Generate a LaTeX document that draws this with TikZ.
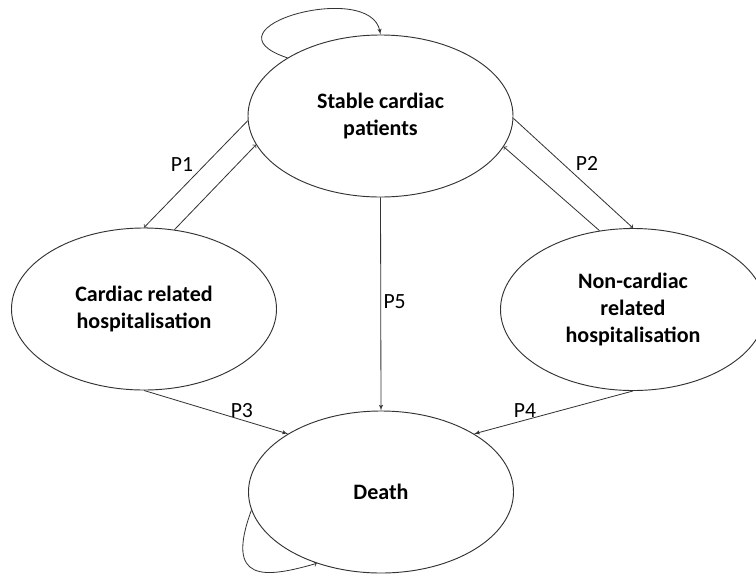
\documentclass[tikz,border=0pt]{standalone}
\usepackage{fontspec}
\setmainfont{Carlito}
\usepackage{tikz}
\usetikzlibrary{positioning}
\usetikzlibrary{shapes,arrows}
\tikzstyle{state} = [ellipse, draw=black!80, line width=0.8pt, align=center,
    minimum width=7.95cm, minimum height=4.86cm, inner sep=0pt,
    font=\fontsize{18.8}{23}\selectfont\bfseries]
\tikzstyle{line} = [draw=black!80, line width=0.7pt, -latex']
\tikzstyle{open} = [draw=black!80, line width=0.7pt, ->]
\tikzstyle{prob} = [font=\fontsize{18.5}{23}\selectfont, inner sep=2pt]

\begin{document}
\begin{tikzpicture}[x=0.03cm, y=-0.03cm]
        \useasboundingbox (0,0) rectangle (756,575);
        % nodes
        \node [state] (stable) at (380.5,116) {Stable cardiac\\patients};
        \node [state] (cardiac) at (144,309) {Cardiac related\\hospitalisation};
        \node [state] (noncardiac) at (633,309.5) {Non-cardiac\\related\\hospitalisation};
        \node [state] (death) at (381,492) {Death};
        % edges
        \path [open] (stable.182) --node[prob, above left]{P1}(cardiac.north);
        \path [open] (cardiac.69) -- (stable.193);
        \path [open] (stable.-1) --node[prob, above right]{P2}(noncardiac.north);
        \path [open] (noncardiac.113) -- (stable.-14);
        \path [line] (stable.south) --node[prob, pos=0.49, right]{P5}(death.north);
        \path [line] (cardiac.south) --node[prob, pos=0.68, above]{P3}(death.148);
        \path [line] (noncardiac.south) --node[prob, pos=0.68, above]{P4}(death.32);
        % self loops
        \path [line] (stable.148) .. controls +(-90,-30) and +(-10,-55) .. (stable.north);
        \path [open] (death.188) .. controls +(-27,73) and +(-52,15) .. (death.228);
    \end{tikzpicture}
\end{document}
